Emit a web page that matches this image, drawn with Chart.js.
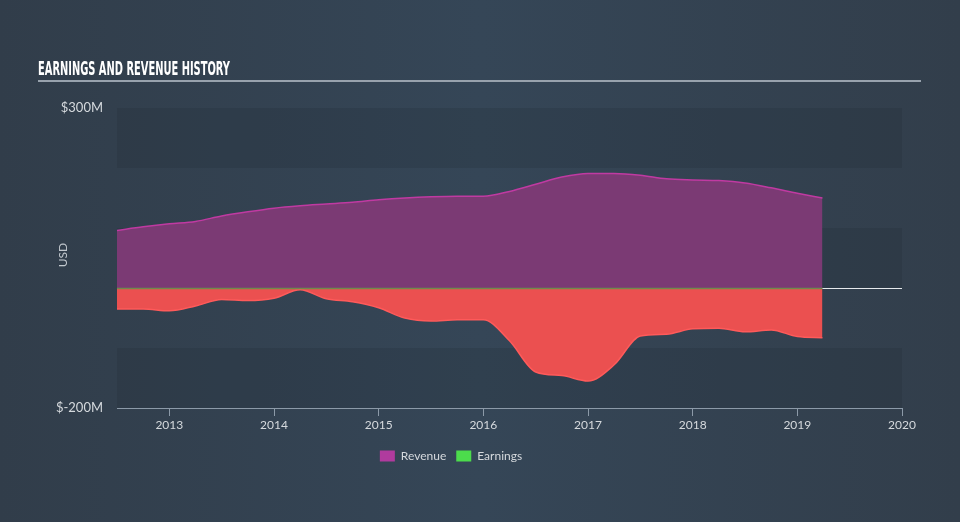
<!DOCTYPE html>
<html>
<head>
<meta charset="utf-8">
<script src="https://cdn.jsdelivr.net/npm/chart.js@4.4.1/dist/chart.umd.min.js"></script>
<style>
  html, body { margin: 0; padding: 0; }
  body {
    width: 960px; height: 522px; overflow: hidden;
    background: linear-gradient(90deg, #313d4a 0%, #354657 50%, #323e4b 100%);
  }
  #wrap { position: relative; width: 960px; height: 522px; }
</style>
</head>
<body>
<div id="wrap"><canvas id="chart" width="960" height="522"></canvas></div>
<script>
// quarterly points, decimal years
const quarters = [2012.5, 2012.75, 2013.0, 2013.25, 2013.5, 2013.75, 2014.0, 2014.25,
                  2014.5, 2014.75, 2015.0, 2015.25, 2015.5, 2015.75, 2016.0, 2016.25,
                  2016.5, 2016.75, 2017.0, 2017.25, 2017.5, 2017.75, 2018.0, 2018.25,
                  2018.5, 2018.75, 2019.0, 2019.24];
// USD millions
const revenue = [96, 102, 107, 111, 120, 127, 133, 137, 140, 143, 147, 150, 152, 153,
                 153, 161, 173, 185, 191, 191, 188, 182, 180, 179, 175, 167, 158, 150];
const earnings = [-35, -35, -38, -30, -19, -21, -17, -3, -18, -23, -33, -50, -55, -53,
                  -53, -88, -140, -146, -155, -128, -80, -77, -68, -67, -73, -70, -81, -83];
const yearTicks = [2013, 2014, 2015, 2016, 2017, 2018, 2019, 2020];
const yLabels = { 300: '$300M', '-200': '$-200M' };

const FONT = 'Lato, "Open Sans", sans-serif';

// title, bands, zero line, axis title
const decor = {
  id: 'decor',
  beforeDraw(chart) {
    const ctx = chart.ctx;
    const { left, right } = chart.chartArea;
    const y = chart.scales.y;
    ctx.save();
    ctx.fillStyle = 'rgba(30, 40, 52, 0.2)';
    [[300, 200], [100, 0], [-100, -200]].forEach(([a, b]) => {
      const y1 = y.getPixelForValue(a), y2 = y.getPixelForValue(b);
      ctx.fillRect(left, y1, right - left, y2 - y1);
    });
    // title
    ctx.fillStyle = '#ffffff';
    ctx.font = 'bold 19px "Liberation Sans Narrow", "DejaVu Sans Condensed", sans-serif';
    ctx.textBaseline = 'alphabetic';
    ctx.fillText('EARNINGS AND REVENUE HISTORY', 38, 75, 192);
    ctx.fillStyle = '#98a2ad';
    ctx.fillRect(38, 80, 883, 2);
    // axis title
    ctx.translate(63, 255);
    ctx.rotate(-Math.PI / 2);
    ctx.fillStyle = '#c3c9cf';
    ctx.font = '12px ' + FONT;
    ctx.textAlign = 'center';
    ctx.textBaseline = 'middle';
    ctx.fillText('USD', 0, 0);
    ctx.restore();
  },
  afterDatasetsDraw(chart) {
    const ctx = chart.ctx;
    const { right } = chart.chartArea;
    const x = chart.scales.x, y = chart.scales.y;
    const y0 = Math.round(y.getPixelForValue(0)) + 0.5;
    const xs = x.getPixelForValue(quarters[0]);
    const xe = x.getPixelForValue(quarters[quarters.length - 1]);
    ctx.save();
    ctx.lineWidth = 1.5;
    ctx.strokeStyle = '#6f8a4c';
    ctx.beginPath(); ctx.moveTo(xs, y0); ctx.lineTo(xe, y0); ctx.stroke();
    ctx.strokeStyle = '#e6e9ec';
    ctx.lineWidth = 1;
    ctx.beginPath(); ctx.moveTo(xe, y0); ctx.lineTo(right, y0); ctx.stroke();
    ctx.restore();
  }
};

new Chart(document.getElementById('chart'), {
  type: 'line',
  data: {
    datasets: [
      {
        label: 'Revenue',
        data: quarters.map((q, i) => ({ x: q, y: revenue[i] })),
        borderColor: '#c03aa2',
        backgroundColor: '#7b3a74',
        borderWidth: 1.5,
        fill: 'origin',
        pointRadius: 0,
        cubicInterpolationMode: 'monotone'
      },
      {
        label: 'Earnings',
        data: quarters.map((q, i) => ({ x: q, y: earnings[i] })),
        borderColor: '#ff5a5a',
        backgroundColor: '#eb5050',
        borderWidth: 1.5,
        fill: 'origin',
        pointRadius: 0,
        cubicInterpolationMode: 'monotone'
      }
    ]
  },
  options: {
    responsive: false,
    animation: false,
    layout: { padding: { left: 0, right: 58, top: 108, bottom: 50 } },
    scales: {
      x: {
        type: 'linear',
        min: 2012.5,
        max: 2020,
        afterBuildTicks: s => { s.ticks = yearTicks.map(v => ({ value: v })); },
        afterFit: s => { s.height = 32; },
        ticks: {
          color: '#d5d9dd',
          font: { family: FONT, size: 12 },
          padding: 2,
          maxRotation: 0,
          callback: v => String(v)
        },
        grid: { drawOnChartArea: false, drawTicks: true, tickLength: 8, color: '#8c9aa8' },
        border: { display: true, color: '#8c9aa8', width: 1 }
      },
      y: {
        min: -200,
        max: 300,
        afterFit: s => { s.width = 117; },
        ticks: {
          stepSize: 100,
          color: '#d5d9dd',
          font: { family: FONT, size: 13 },
          padding: 6,
          callback: v => yLabels[v] || ''
        },
        grid: { display: false },
        border: { display: false }
      }
    },
    plugins: {
      legend: {
        position: 'bottom',
        labels: {
          color: '#d5d9dd',
          font: { family: FONT, size: 12 },
          boxWidth: 15,
          boxHeight: 11,
          padding: 10,
          generateLabels: chart => [
            { text: 'Revenue', fillStyle: '#b03b9e', strokeStyle: 'transparent', lineWidth: 0, datasetIndex: 0, fontColor: '#d5d9dd' },
            { text: 'Earnings', fillStyle: '#4cdc4c', strokeStyle: 'transparent', lineWidth: 0, datasetIndex: 1, fontColor: '#d5d9dd' }
          ]
        }
      },
      tooltip: { enabled: false }
    }
  },
  plugins: [decor]
});
</script>
</body>
</html>
